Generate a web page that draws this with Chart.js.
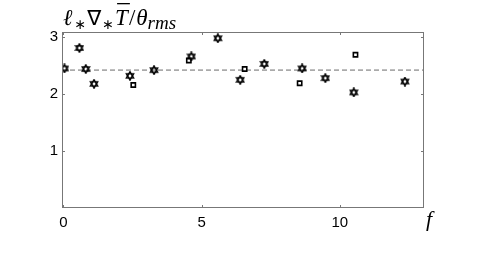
<!DOCTYPE html>
<html>
<head>
<meta charset="utf-8">
<script src="https://cdn.jsdelivr.net/npm/chart.js@4.4.1/dist/chart.umd.min.js"></script>
<style>
  html, body { margin: 0; padding: 0; background: #fff; }
  #wrap { width: 491px; height: 272px; }
</style>
</head>
<body>
<div id="wrap"><canvas id="c" width="491" height="272"></canvas></div>
<script>
// valeurs
const starF   = [0.04, 0.58, 0.81, 1.11, 2.41, 3.28, 4.63, 5.59, 6.40, 7.27, 8.64, 9.48, 10.51, 12.36];
const starVal = [2.45, 2.81, 2.44, 2.18, 2.32, 2.42, 2.66, 2.98, 2.25, 2.53, 2.45, 2.28, 2.03, 2.22];
const squareF   = [2.53, 4.54, 6.56, 8.55, 10.57];
const squareVal = [2.16, 2.59, 2.44, 2.19, 2.69];
const meanVal = 2.42;
const xRange = [-0.05, 13.05];
const yRange = [0, 3.09];
const xTicks = [0, 5, 10];
const yTicks = [1, 2, 3];

// marqueur étoile à six branches
function hexagram() {
    const s = 10, c = document.createElement('canvas');
    c.width = s; c.height = s;
    const g = c.getContext('2d');
    const r = 4.2, cx = s / 2, cy = s / 2;
    g.strokeStyle = '#000';
    g.lineWidth = 1.4;
    [-Math.PI / 2, Math.PI / 2].forEach(a0 => {
        g.beginPath();
        for (let i = 0; i < 3; i++) {
            const a = a0 + i * 2 * Math.PI / 3;
            const px = cx + r * Math.cos(a), py = cy + r * Math.sin(a);
            if (i === 0) g.moveTo(px, py); else g.lineTo(px, py);
        }
        g.closePath();
        g.stroke();
    });
    return c;
}

// cadre + graduations vers l'intérieur + titre et label f
const framePlugin = {
    id: 'frame',
    afterDraw(chart) {
        const ctx = chart.ctx, a = chart.chartArea;
        const xs = chart.scales.x, ys = chart.scales.y;
        ctx.save();
        ctx.strokeStyle = '#777';
        ctx.lineWidth = 1;
        ctx.strokeRect(a.left + 0.5, a.top + 0.5, a.right - a.left - 1, a.bottom - a.top - 1);
        ctx.beginPath();
        xTicks.forEach(v => {
            const px = Math.round(xs.getPixelForValue(v)) + 0.5;
            ctx.moveTo(px, a.bottom); ctx.lineTo(px, a.bottom - 3);
            ctx.moveTo(px, a.top); ctx.lineTo(px, a.top + 3);
        });
        yTicks.forEach(v => {
            const py = Math.round(ys.getPixelForValue(v)) + 0.5;
            ctx.moveTo(a.left, py); ctx.lineTo(a.left + 3, py);
            ctx.moveTo(a.right, py); ctx.lineTo(a.right - 3, py);
        });
        ctx.stroke();

        // titre : ℓ∗∇∗T̄/θrms
        ctx.fillStyle = '#000';
        ctx.textBaseline = 'alphabetic';
        const big = 'italic 23px "Liberation Serif"';
        const sub = 'italic 19px "Liberation Serif"';
        let x = a.left + 1;
        const base = 25;
        const put = (t, font, dy) => {
            ctx.font = font;
            ctx.fillText(t, x, base + (dy || 0));
            const w = ctx.measureText(t).width;
            x += w;
            return w;
        };
        put('ℓ', big);
        x += 2;
        put('∗', '14px "DejaVu Sans"', 4);
        x += 1;
        put('∇', '21px "DejaVu Sans"');
        x += 1;
        put('∗', '14px "DejaVu Sans"', 4);
        x += 1;
        const tx = x;
        const tw = put('T', big);
        ctx.fillRect(tx + 2, 3, tw, 1.3);
        x += 1;
        put('/', '23px "Liberation Serif"');
        x += 1;
        put('θ', big);
        put('rms', sub, 4);

        ctx.font = 'italic 22px "Liberation Serif"';
        ctx.fillText('f', a.right + 2, 226);
        ctx.restore();
    }
};

new Chart(document.getElementById('c'), {
    type: 'scatter',
    data: {
        datasets: [
            {
                data: starF.map((f, i) => ({ x: f, y: starVal[i] })),
                pointStyle: hexagram(),
                pointRadius: 5,
                order: 1
            },
            {
                data: squareF.map((f, i) => ({ x: f, y: squareVal[i] })),
                pointStyle: 'rect',
                pointRadius: 3,
                pointBorderWidth: 1.6,
                pointBorderColor: '#000',
                pointBackgroundColor: 'rgba(0,0,0,0)',
                order: 2
            },
            {
                type: 'line',
                data: xRange.map(f => ({ x: f, y: meanVal })),
                borderColor: '#aaa',
                borderWidth: 1.6,
                borderDash: [5, 3],
                pointRadius: 0,
                order: 3
            }
        ]
    },
    options: {
        responsive: false,
        animation: false,
        layout: { padding: { left: 0, top: 32, right: 67, bottom: 34 } },
        plugins: { legend: { display: false }, tooltip: { enabled: false } },
        scales: {
            x: {
                type: 'linear',
                min: xRange[0], max: xRange[1],
                afterBuildTicks: s => { s.ticks = xTicks.map(v => ({ value: v })); },
                afterFit: s => { s.height = 30; },
                grid: { display: false, drawTicks: false },
                border: { display: false },
                ticks: { color: '#000', padding: 6, font: { family: '"Liberation Sans"', size: 15 } }
            },
            y: {
                min: yRange[0], max: yRange[1],
                afterBuildTicks: s => { s.ticks = yTicks.map(v => ({ value: v })); },
                afterFit: s => { s.width = 62; },
                grid: { display: false, drawTicks: false },
                border: { display: false },
                ticks: { color: '#000', padding: 4, font: { family: '"Liberation Sans"', size: 15 } }
            }
        }
    },
    plugins: [framePlugin]
});
</script>
</body>
</html>
